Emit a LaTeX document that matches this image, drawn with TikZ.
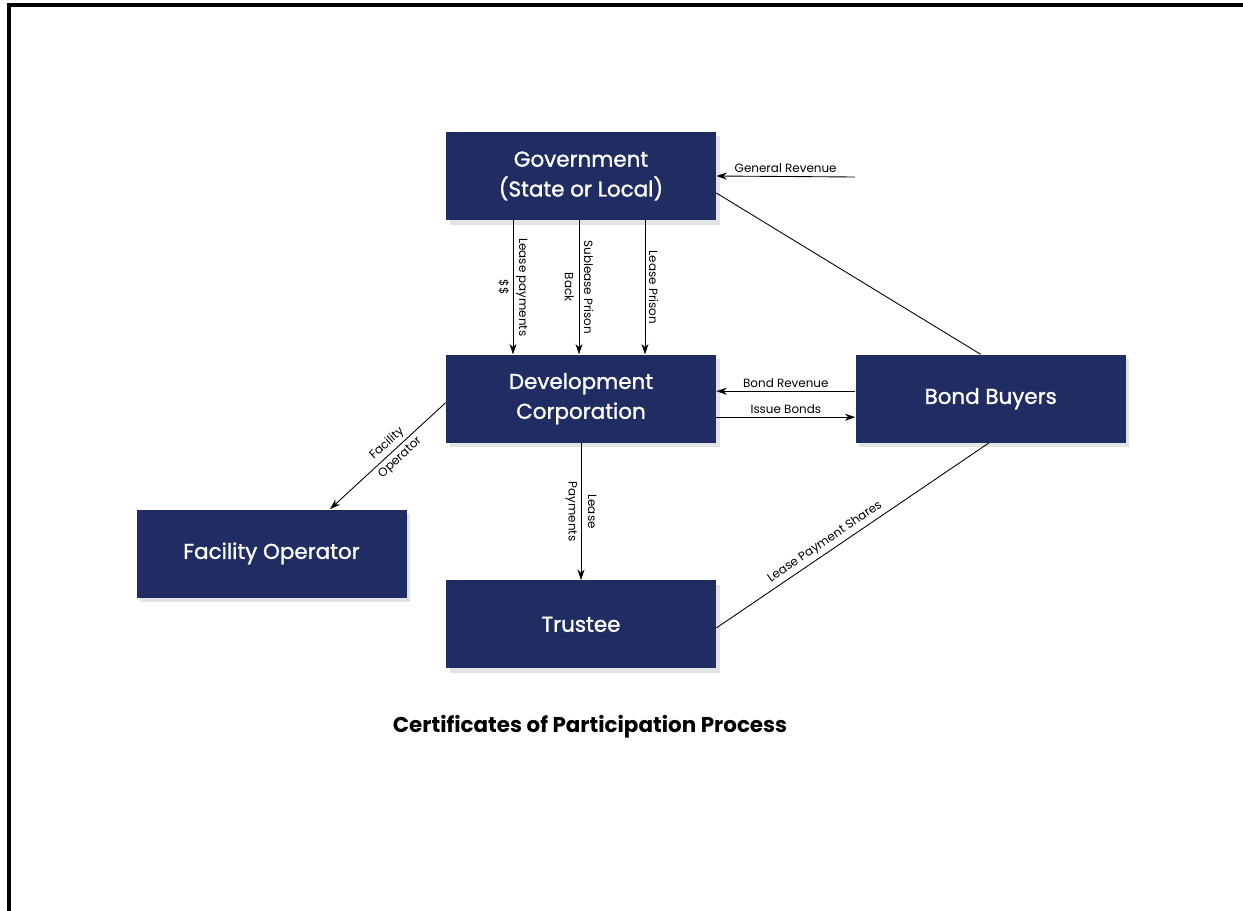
\documentclass[tikz,border=0pt]{standalone}
\usepackage{fontspec}
\setmainfont{Poppins}
\newfontfamily\boxfont{Poppins}[FakeBold=1.3]
\usetikzlibrary{arrows.meta, positioning, shadows}

\definecolor{navy}{RGB}{31,45,98}

\begin{document}
\begin{tikzpicture}[
    node distance=2.7cm and 2.78cm,
    box/.style={
      rectangle,
      minimum height=1.76cm,
      minimum width=5.4cm,
      inner sep=0pt,
      fill=navy,
      text=white,
      align=center,
      font=\boxfont\fontsize{12.2}{17}\selectfont,
      drop shadow={shadow xshift=0.07cm, shadow yshift=-0.09cm, opacity=0.22}
    },
    arrow/.style={
      -{Stealth[length=6pt, width=4pt]},
      line width=0.5pt
    },
    link/.style={
      line width=0.5pt
    },
    lbl/.style={
      font=\fontsize{6.8}{11}\selectfont,
      align=center,
      inner sep=2pt
    }
  ]

  % Khung
  \useasboundingbox (0,0) rectangle (24.86,-18.22);
  \draw[line width=1.8pt] (0.18,-18.22) -- (0.18,-0.1) -- (24.86,-0.1);

  % Nodes
  \node[box] (gov) at (11.62,-3.52) {Government\\(State or Local)};
  \node[box, below=2.68cm of gov] (dev) {Development\\Corporation};
  \node[box, right=of dev] (bond) {Bond Buyers};
  \node[box, below=2.74cm of dev] (trustee) {Trustee};
  \node[box] (facop) at (5.43,-11.07) {Facility Operator};
  \coordinate (genrev) at (17.1,-3.54);

  % Title
  \node[below=0.8cm of trustee, xshift=0.18cm, font=\fontsize{12.2}{14}\selectfont\bfseries] (title) {Certificates of Participation Process};

  % Arrows
  \draw[arrow] ([xshift=-1.36cm]gov.south) -- node[lbl, rotate=-90] {Lease payments\\\$\$} ([xshift=-1.36cm]dev.north);
  \draw[arrow] ([xshift=-0.04cm]gov.south) -- node[lbl, rotate=-90] {Sublease Prison\\Back} ([xshift=-0.04cm]dev.north);
  \draw[arrow] ([xshift=1.28cm]gov.south) -- node[lbl, rotate=-90, anchor=south] {Lease Prison} ([xshift=1.28cm]dev.north);
  \draw[arrow] (genrev) -- node[lbl, above] {General Revenue} (gov.east);
  \draw[arrow] ([yshift=0.15cm]bond.west) -- node[lbl, above] {Bond Revenue} ([yshift=0.15cm]dev.east);
  \draw[arrow] ([yshift=-0.37cm]dev.east) -- node[lbl, above] {Issue Bonds} ([yshift=-0.37cm]bond.west);
  \draw[arrow] ([yshift=-0.08cm]dev.west) -- node[lbl, sloped, pos=0.45] {Facility\\Operator} ([xshift=1.17cm]facop.north);
  \draw[arrow] (dev.south) -- node[lbl, rotate=-90] {Lease\\Payments} (trustee.north);

  % Lines
  \draw[link] ([yshift=-0.34cm]gov.east) -- ([xshift=-0.2cm]bond.north);
  \draw[link] ([yshift=-0.07cm]trustee.east) -- node[lbl, sloped, above, pos=0.42] {Lease Payment Shares} ([xshift=-0.04cm]bond.south);

\end{tikzpicture}
\end{document}
